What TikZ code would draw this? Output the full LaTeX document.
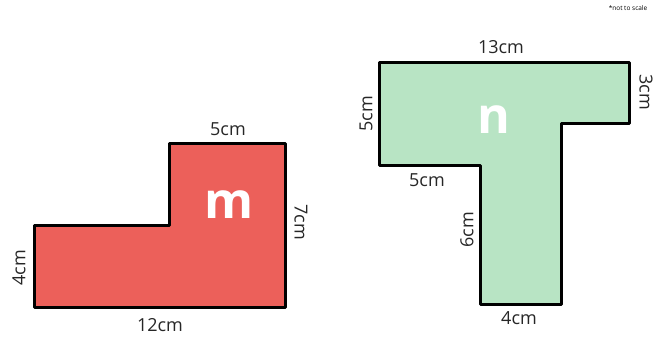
\documentclass[tikz,border=0pt]{standalone}
\usepackage{fontspec}
\setmainfont{Open Sans}
\begin{document}
\begin{tikzpicture}[x=1pt,y=-1pt,
  outline/.style={draw=black,line width=3pt,line join=round},
  lbl/.style={font=\fontsize{18}{18}\selectfont,text=black!85,inner sep=0pt},
  big/.style={font=\fontsize{50}{50}\selectfont\bfseries,text=white,inner sep=0pt}]
\useasboundingbox (0,0) rectangle (661,338);
\definecolor{redfill}{HTML}{EC605A}
\definecolor{greenfill}{HTML}{B8E4C4}
% shape m
\draw[outline,fill=redfill] (34,225) -- (169,225) -- (169,143) -- (285,143) -- (285,307) -- (34,307) -- cycle;
\node[big] (m) at (229,205) {m};
\node[lbl] (m5) at (228,129) {5cm};
\node[lbl,rotate=-90] (m7) at (301,222) {7cm};
\node[lbl,rotate=90] (m4) at (19,268) {4cm};
\node[lbl] (m12) at (160,325) {12cm};
% shape n
\draw[outline,fill=greenfill] (379,62) -- (629,62) -- (629,123) -- (561,123) -- (561,304) -- (480,304) -- (480,165) -- (379,165) -- cycle;
\node[big] (n) at (494,120) {n};
\node[lbl] (n13) at (501,47) {13cm};
\node[lbl,rotate=-90] (n3) at (646,92) {3cm};
\node[lbl,rotate=90] (n5a) at (366,114) {5cm};
\node[lbl] (n5b) at (427,180) {5cm};
\node[lbl,rotate=90] (n6) at (467,230) {6cm};
\node[lbl] (n4) at (519,318) {4cm};
\node[font=\fontsize{6.5}{6.5}\selectfont,inner sep=0pt] (note) at (628,8) {*not to scale};
\end{tikzpicture}
\end{document}
